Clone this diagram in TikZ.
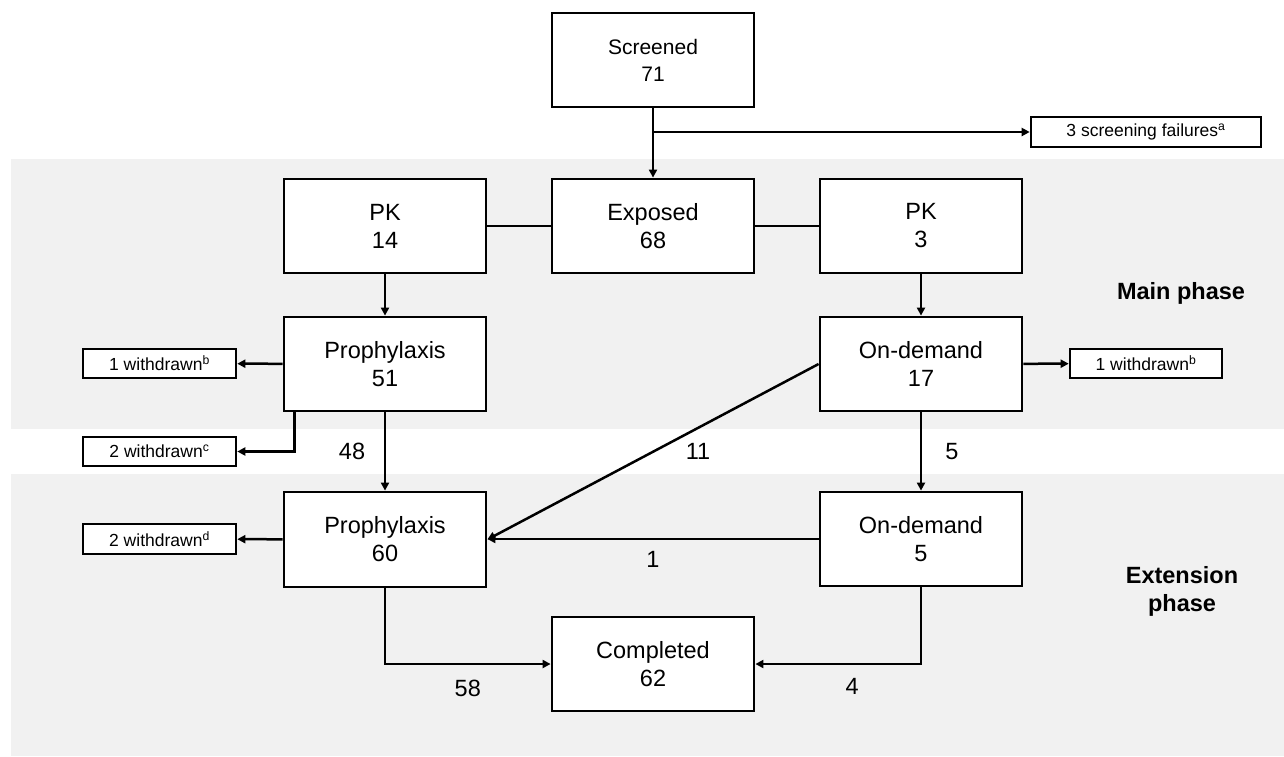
\documentclass[tikz,border=0pt]{standalone}
\usepackage{fontspec}
\setmainfont{Liberation Sans}
\usetikzlibrary{arrows.meta}
\definecolor{band}{RGB}{241,241,241}
\begin{document}
\begin{tikzpicture}[x=1pt,y=-1pt,
  box/.style={draw, line width=2.8pt, fill=white, minimum width=202pt, minimum height=94pt, inner sep=0pt, align=center, font=\fontsize{23.5}{28}\selectfont},
  small/.style={draw, line width=2.6pt, fill=white, minimum width=153pt, minimum height=29pt, inner sep=0pt, font=\fontsize{17.5}{20}\selectfont},
  arr/.style={line width=2.5pt, -{Triangle[length=8pt,width=8pt]}},
  con/.style={line width=2.5pt},
  lab/.style={font=\fontsize{23.5}{28}\selectfont, inner sep=0pt},
  phase/.style={font=\bfseries\fontsize{23.5}{28}\selectfont, align=center, inner sep=0pt}]
\useasboundingbox (0,0) rectangle (1284,756);
\fill[white] (0,0) rectangle (1284,756);
\fill[band] (10.7,159) rectangle (1284,429);
\fill[band] (10.7,474) rectangle (1284,756);

% nodes
\node[box, font=\fontsize{21}{27}\selectfont] (scr) at (653,60) {Screened\\71};
\node[small, minimum width=230pt, minimum height=30pt] (fail) at (1146,132) {3 screening failures\textsuperscript{a}};
\node[box] (pk1) at (385,226) {PK\\14};
\node[box] (exp) at (653,226) {Exposed\\68};
\node[box] (pk2) at (921,226) {PK\\3};
\node[box] (pro1) at (385,364) {Prophylaxis\\51};
\node[box] (od1) at (921,364) {On-demand\\17};
\node[small] (wb1) at (159.5,363.5) {1 withdrawn\textsuperscript{b}};
\node[small, minimum width=152pt] (wb2) at (1146,363.5) {1 withdrawn\textsuperscript{b}};
\node[small] (wc) at (159.5,451.5) {2 withdrawn\textsuperscript{c}};
\node[box, minimum height=95pt] (pro2) at (385,539.5) {Prophylaxis\\60};
\node[box] (od2) at (921,539) {On-demand\\5};
\node[small, minimum height=30pt] (wd) at (159.5,539) {2 withdrawn\textsuperscript{d}};
\node[box] (comp) at (653,664) {Completed\\62};

\node[phase] (mp) at (1181,293) {Main phase};
\node[phase] (ep) at (1182,591) {Extension\\phase};

% connectors
\draw[arr] (scr) -- (exp);
\draw[arr] (scr.south |- fail.west) -- (fail.west);
\draw[con] (pk1) -- (exp);
\draw[con] (exp) -- (pk2);
\draw[arr] (pk1) -- (pro1);
\draw[arr] (pk2) -- (od1);
\draw[arr] (pro1) -- (wb1);
\draw[arr] (od1) -- (wb2);
\draw[arr] ([xshift=12pt]pro1.south west) |- (wc.east);
\draw[arr] (pro1) -- (pro2) node[lab, midway, xshift=-33pt] {48};
\draw[arr] (od1) -- (od2) node[lab, midway, xshift=31pt] {5};
\draw[arr] (od1.west) -- (pro2.east) node[lab, midway, xshift=45pt] {11};
\draw[arr] (od2.west) -- (pro2.east |- od2.west) node[lab, midway, yshift=-20pt] {1};
\draw[arr] (pro2) -- (wd);
\draw[arr] (pro2.south) |- (comp.west) node[lab, pos=0.75, yshift=-24pt] {58};
\draw[arr] (od2.south) |- (comp.east) node[lab, pos=0.75, xshift=14pt, yshift=-22pt] {4};
\end{tikzpicture}
\end{document}
